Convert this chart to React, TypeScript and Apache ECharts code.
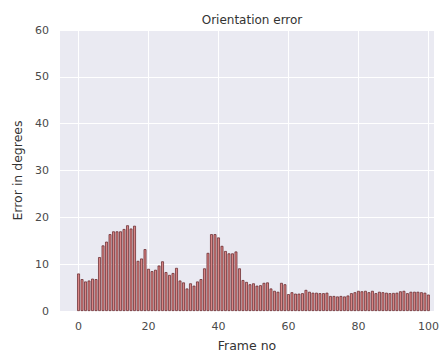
import React, { useEffect, useRef } from "react";
import * as echarts from "echarts";

const frames: number[] = Array.from({ length: 101 }, (_, i) => i);
const errors: number[] = [
  8.0, 6.8, 6.3, 6.5, 6.9, 6.8, 11.5, 14.0, 14.8, 16.4,
  17.0, 17.0, 17.0, 17.5, 18.3, 17.6, 18.2, 10.7, 11.2, 13.2,
  9.0, 8.5, 8.8, 9.7, 10.6, 8.3, 7.7, 8.1, 9.2, 6.5,
  6.1, 4.8, 5.9, 5.4, 6.3, 6.8, 9.1, 12.4, 16.4, 16.4,
  15.7, 13.9, 12.8, 12.3, 12.3, 12.7, 9.1, 6.6, 6.2, 5.7,
  5.9, 5.4, 5.5, 6.0, 6.1, 4.8, 4.3, 4.1, 6.0, 5.7,
  3.6, 4.0, 3.7, 3.7, 3.8, 4.5, 4.1, 3.9, 3.9, 3.8,
  3.8, 3.9, 3.2, 3.2, 3.1, 3.2, 3.1, 3.3, 3.8, 4.0,
  4.3, 4.2, 4.3, 4.0, 4.3, 3.8, 4.1, 4.0, 3.9, 3.8,
  3.85, 3.9, 4.2, 4.3, 3.8, 4.1, 4.1, 4.1, 4.0, 3.9,
  3.5,
];
const xTicks: number[] = [0, 20, 40, 60, 80, 100];

const FONT = "DejaVu Sans";

export default function App() {
  const ref = useRef<HTMLDivElement>(null);
  useEffect(() => {
    if (!ref.current) return;
    const chart = echarts.init(ref.current, undefined, { renderer: "svg" });
    chart.setOption({
      animation: false,
      backgroundColor: "#ffffff",
      title: {
        text: "Orientation error",
        left: 247,
        textAlign: "center",
        top: 9,
        textStyle: { fontFamily: FONT, fontSize: 12, fontWeight: "normal", color: "#333333" },
      },
      grid: { left: 60, top: 30, width: 374, height: 286, backgroundColor: "#EAEAF2", show: true, borderWidth: 0 },
      xAxis: {
        type: "value",
        min: -5.3,
        max: 101.6,
        name: "Frame no",
        nameLocation: "middle",
        nameGap: 28,
        nameTextStyle: { fontFamily: FONT, fontSize: 12.5, color: "#333333" },
        axisLine: { show: false },
        axisTick: { show: false, customValues: xTicks },
        axisLabel: { customValues: xTicks, fontFamily: FONT, fontSize: 11, color: "#4a4a4a", margin: 10 },
        splitLine: { show: true, lineStyle: { color: "#ffffff", width: 1 } },
      },
      yAxis: {
        type: "value",
        min: 0,
        max: 60,
        interval: 10,
        name: "Error in degrees",
        nameLocation: "middle",
        nameGap: 26,
        nameTextStyle: { fontFamily: FONT, fontSize: 12.5, color: "#333333" },
        axisLine: { show: false },
        axisTick: { show: false },
        axisLabel: { fontFamily: FONT, fontSize: 11, color: "#4a4a4a", margin: 11 },
        splitLine: { show: true, lineStyle: { color: "#ffffff", width: 1 } },
      },
      series: [
        {
          type: "bar",
          data: frames.map((f, i) => [f, errors[i]]),
          barWidth: 2.8,
          itemStyle: { color: "#d98585", borderColor: "#5e1f24", borderWidth: 0.7 },
        },
      ],
    });
    return () => chart.dispose();
  }, []);
  return <div ref={ref} style={{ position: "fixed", left: 0, top: 0, width: 444, height: 357 }} />;
}
